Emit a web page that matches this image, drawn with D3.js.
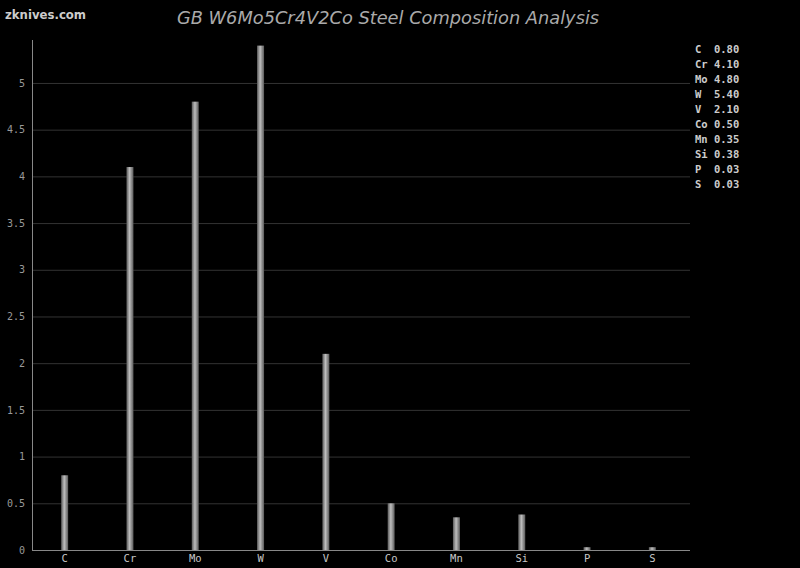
<!DOCTYPE html>
<html><head><meta charset="utf-8">
<script src="https://cdn.jsdelivr.net/npm/d3@7"></script>
<style>body{margin:0;background:#000;}svg{display:block;}</style>
</head><body>
<svg id="c" width="800" height="568"></svg>
<script>
const categories = ["C","Cr","Mo","W","V","Co","Mn","Si","P","S"];
const values = [0.80,4.10,4.80,5.40,2.10,0.50,0.35,0.38,0.03,0.03];
const yTicks = [0,0.5,1,1.5,2,2.5,3,3.5,4,4.5,5];
const title = "GB W6Mo5Cr4V2Co Steel Composition Analysis";
const watermark = "zknives.com";

const svg = d3.select("#c");
svg.append("rect").attr("width",800).attr("height",568).attr("fill","#000");
const pL = 32, pR = 690, pT = 40, pB = 550;
const x = d3.scaleBand().domain(categories).range([pL, 685]);
const y = d3.scaleLinear().domain([0, 5.46]).range([pB, pT]);

const defs = svg.append("defs");
const g = defs.append("linearGradient").attr("id","bg").attr("x1","0").attr("x2","1").attr("y1","0").attr("y2","0");
g.append("stop").attr("offset","0%").attr("stop-color","#5a5a5a");
g.append("stop").attr("offset","45%").attr("stop-color","#bdbdbd");
g.append("stop").attr("offset","100%").attr("stop-color","#5a5a5a");

// grid
svg.append("g").selectAll("line").data(yTicks.filter(d=>d>0)).join("line")
  .attr("x1",pL).attr("x2",pR).attr("y1",d=>y(d)+0.5).attr("y2",d=>y(d)+0.5)
  .attr("stroke","#333").attr("stroke-width",1);

// bars
const bw = 7;
svg.append("g").selectAll("rect").data(values).join("rect")
  .attr("x",(d,i)=>x(categories[i])+x.bandwidth()/2-bw/2)
  .attr("y",d=>y(d)).attr("width",bw).attr("height",d=>pB-y(d))
  .attr("fill","url(#bg)");

// axes
const yAxis = svg.append("g").attr("transform",`translate(${pL},0)`)
  .call(d3.axisLeft(y).tickValues(yTicks).tickSize(0).tickPadding(7).tickFormat(d=>String(d)));
yAxis.select(".domain").remove();
yAxis.selectAll("text").attr("fill","#999").attr("font-family","DejaVu Sans Mono, monospace").attr("font-size",10);
svg.append("line").attr("x1",pL+0.5).attr("x2",pL+0.5).attr("y1",pT).attr("y2",pB).attr("stroke","#888");

const xAxis = svg.append("g").attr("transform",`translate(0,${pB})`)
  .call(d3.axisBottom(x).tickSize(0).tickPadding(5));
xAxis.select(".domain").remove();
xAxis.selectAll("text").attr("fill","#c8c8c8").attr("font-family","DejaVu Sans Mono, monospace").attr("font-size",10.5);
svg.append("line").attr("x1",pL).attr("x2",pR).attr("y1",pB+0.5).attr("y2",pB+0.5).attr("stroke","#888");

// title
svg.append("text").attr("x",388).attr("y",24).attr("text-anchor","middle")
  .attr("font-family","DejaVu Sans, sans-serif").attr("font-style","italic").attr("font-size",17.8)
  .attr("fill","#aaa").text(title);
svg.append("text").attr("x",5).attr("y",19).attr("font-family","DejaVu Sans Condensed, DejaVu Sans, sans-serif")
  .attr("font-size",13).attr("font-weight","bold").attr("fill","#ccc").text(watermark);

// legend
svg.append("g").selectAll("text").data(categories).join("text")
  .attr("x",695).attr("y",(d,i)=>53+i*15)
  .attr("font-family","DejaVu Sans Mono, monospace").attr("font-size",10.5).attr("font-weight","bold")
  .attr("fill","#ccc").attr("xml:space","preserve")
  .text((d,i)=>(d.length<2?d+" ":d)+" "+values[i].toFixed(2));
</script>
</body></html>
